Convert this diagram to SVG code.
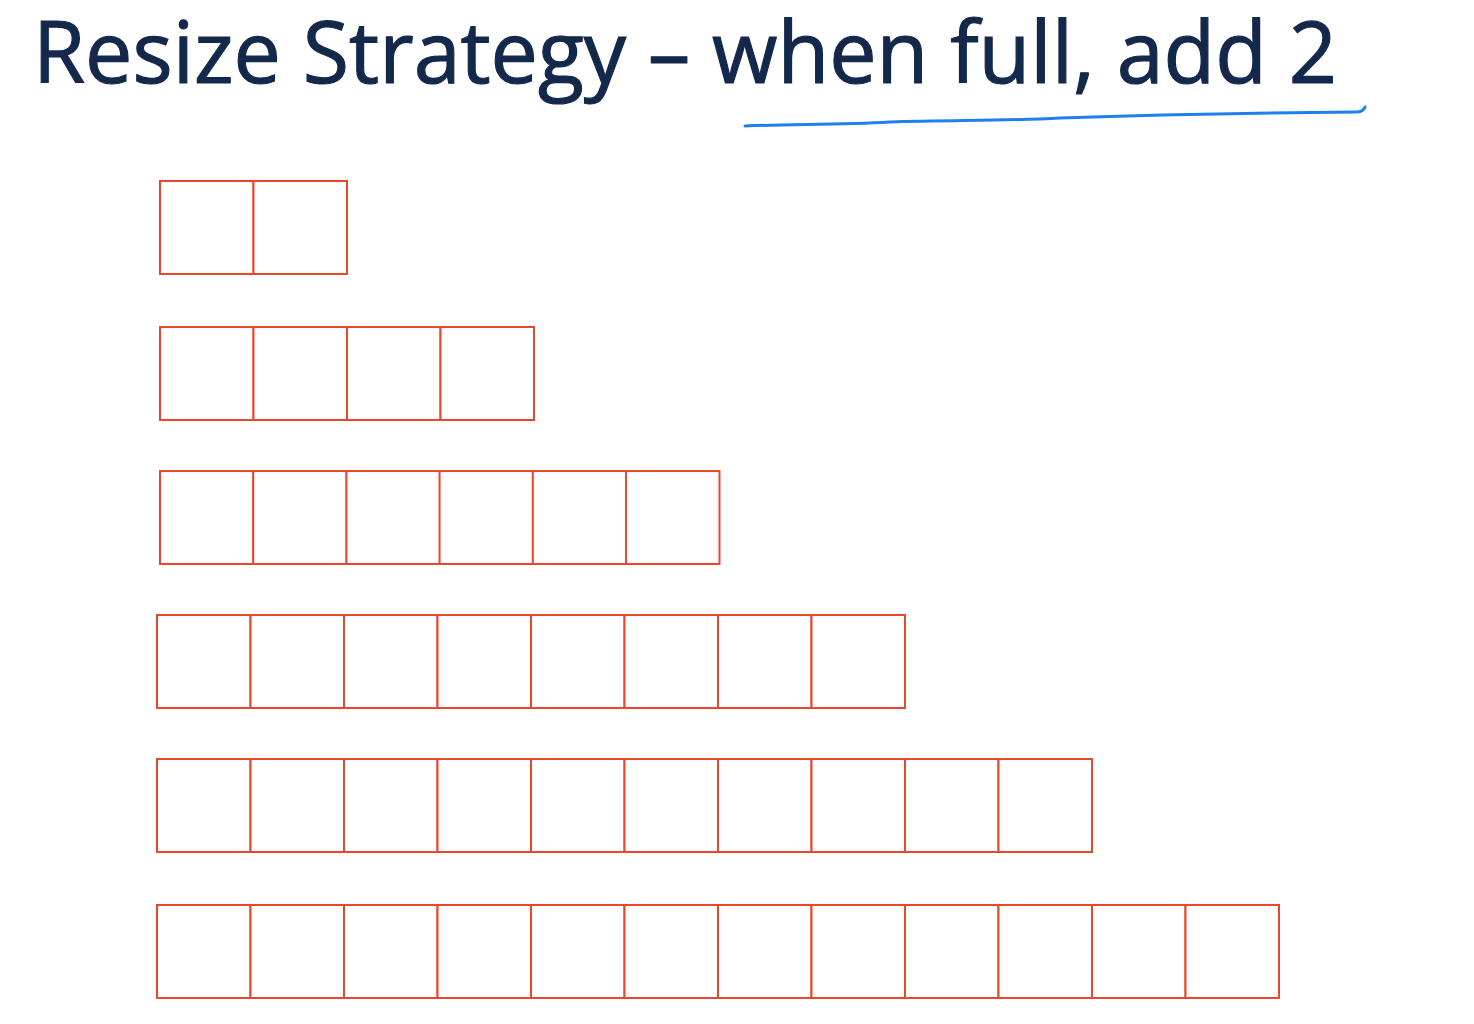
<svg xmlns="http://www.w3.org/2000/svg" width="1474" height="1024" viewBox="0 0 1474 1024">
<style>
.cell{fill:#fff;stroke:#E8472A;stroke-width:2}
.title{font-family:"Open Sans","Liberation Sans",sans-serif;font-size:86px;fill:#13284A;stroke:#13284A;stroke-width:1.2}
</style>
<defs>
<rect id="c" class="cell" width="93.5" height="93"/>
</defs>
<rect width="1474" height="1024" fill="#fff"/>
<g id="title">
<text class="title" x="33" y="83" textLength="1304" lengthAdjust="spacingAndGlyphs">Resize Strategy – when full, add 2</text>
</g>
<g id="underline">
<path d="M745,126 C790,124 840,125 890,122 C950,120 1010,121 1060,118 C1150,115 1250,113 1356,112 C1362,112 1364,110 1365,107" fill="none" stroke="#1E80EC" stroke-width="3" stroke-linecap="round"/>
</g>
<g id="row1">
<use href="#c" x="160" y="181"/><use href="#c" x="253.5" y="181"/>
</g>
<g id="row2">
<use href="#c" x="160" y="327"/><use href="#c" x="253.5" y="327"/><use href="#c" x="347" y="327"/><use href="#c" x="440.5" y="327"/>
</g>
<g id="row3">
<use href="#c" x="160" y="471"/><use href="#c" x="253.2" y="471"/><use href="#c" x="346.4" y="471"/><use href="#c" x="439.6" y="471"/><use href="#c" x="532.8" y="471"/><use href="#c" x="626" y="471"/>
</g>
<g id="row4">
<use href="#c" x="157" y="615"/><use href="#c" x="250.5" y="615"/><use href="#c" x="344" y="615"/><use href="#c" x="437.5" y="615"/><use href="#c" x="531" y="615"/><use href="#c" x="624.5" y="615"/><use href="#c" x="718" y="615"/><use href="#c" x="811.5" y="615"/>
</g>
<g id="row5">
<use href="#c" x="157" y="759"/><use href="#c" x="250.5" y="759"/><use href="#c" x="344" y="759"/><use href="#c" x="437.5" y="759"/><use href="#c" x="531" y="759"/><use href="#c" x="624.5" y="759"/><use href="#c" x="718" y="759"/><use href="#c" x="811.5" y="759"/><use href="#c" x="905" y="759"/><use href="#c" x="998.5" y="759"/>
</g>
<g id="row6">
<use href="#c" x="157" y="905"/><use href="#c" x="250.5" y="905"/><use href="#c" x="344" y="905"/><use href="#c" x="437.5" y="905"/><use href="#c" x="531" y="905"/><use href="#c" x="624.5" y="905"/><use href="#c" x="718" y="905"/><use href="#c" x="811.5" y="905"/><use href="#c" x="905" y="905"/><use href="#c" x="998.5" y="905"/><use href="#c" x="1092" y="905"/><use href="#c" x="1185.5" y="905"/>
</g>
</svg>
